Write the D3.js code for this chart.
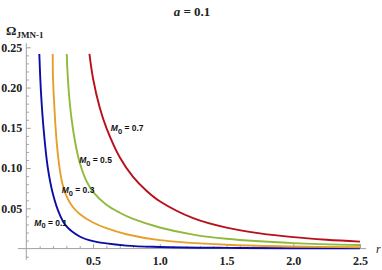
<!DOCTYPE html>
<html><head><meta charset="utf-8">
<script src="https://cdn.jsdelivr.net/npm/d3@7"></script>
<style>
html,body{margin:0;padding:0;background:#fff;}
svg{display:block;}
.tick text{font-family:"Liberation Serif",serif;font-weight:bold;font-size:12px;fill:#222;}
.lbl{font-family:"Liberation Sans",Arial,sans-serif;font-weight:bold;font-size:8.5px;fill:#111;}
</style></head>
<body>
<script>
// ---- data ----
const title = "a = 0.1";
const seriesNames = ["0.1", "0.3", "0.5", "0.7"];
const rBlue = [0.0975,0.11,0.13,0.16,0.2,0.25,0.3,0.4,0.5,0.75,1.0,1.5,2.0,2.5];
const vBlue = [0.2417,0.1942,0.1479,0.1016,0.0675,0.0424,0.0278,0.015,0.0092,0.00373,0.002,0.00089,0.0005,0.0003];
const rOrange = [0.198,0.2,0.21,0.22,0.235,0.25,0.27,0.3,0.35,0.4,0.5,0.6,0.75,1.0,1.5,2.0,2.5];
const vOrange = [0.2417,0.2125,0.1769,0.1488,0.1195,0.0992,0.0809,0.0656,0.0514,0.0431,0.0324,0.0253,0.0178,0.0105,0.0047,0.00263,0.00168];
const rGreen = [0.303,0.31,0.32,0.34,0.37,0.4,0.45,0.5,0.6,0.7,0.8,1.0,1.25,1.5,2.0,2.5];
const vGreen = [0.2417,0.2154,0.1914,0.160,0.1286,0.1069,0.084,0.0704,0.0544,0.0445,0.0368,0.0262,0.0174,0.0122,0.00685,0.00438];
const rRed = [0.473,0.5,0.55,0.6,0.7,0.8,0.9,1.0,1.25,1.5,1.75,2.0,2.25,2.5];
const vRed = [0.2417,0.2112,0.1752,0.150,0.1135,0.0891,0.0719,0.0588,0.0378,0.026,0.0189,0.0142,0.0110,0.0087];
const xMajor = [0.5,1.0,1.5,2.0,2.5];
const yMajor = [0.05,0.10,0.15,0.20,0.25];
const colors = ["#0c0ca6","#e6a02a","#8fba3c","#b8101a"];
// label anchor points (data coords)
const labelR = [0.06,0.265,0.396,0.633];
const labelV = [0.0282,0.0688,0.1058,0.1455];

const W = 382, H = 270;
const svg = d3.select("body").append("svg").attr("width",W).attr("height",H);
const x = d3.scaleLinear().domain([0,2.5]).range([26.3,360]);
const y = d3.scaleLinear().domain([0,0.25]).range([248.6,47.3]);

const axisColor = "#a0a0a0";
// axis lines
svg.append("line").attr("x1",18).attr("x2",366).attr("y1",y(0)).attr("y2",y(0))
  .attr("stroke",axisColor).attr("stroke-width",1);
svg.append("line").attr("x1",x(0)).attr("x2",x(0)).attr("y1",y(0.255)).attr("y2",y(-0.014))
  .attr("stroke",axisColor).attr("stroke-width",1);

// minor ticks
const xMinor = d3.range(1,26).map(i=>i/10).filter(v=>Math.abs(v*2-Math.round(v*2))>1e-6);
const yMinor = d3.range(-1,26).map(i=>i/100).filter(v=>Math.abs(v*20-Math.round(v*20))>1e-6);
function styleAxis(g){ g.select(".domain").remove(); g.selectAll(".tick line").attr("stroke",axisColor); }
svg.append("g").attr("transform",`translate(0,${y(0)})`)
  .call(d3.axisBottom(x).tickValues(xMinor).tickFormat("").tickSizeInner(-2.5).tickSizeOuter(0)).call(styleAxis);
svg.append("g").attr("transform",`translate(${x(0)},0)`)
  .call(d3.axisLeft(y).tickValues(yMinor).tickFormat("").tickSizeInner(-2.5).tickSizeOuter(0)).call(styleAxis);
// major ticks
svg.append("g").attr("transform",`translate(0,${y(0)})`)
  .call(d3.axisBottom(x).tickValues(xMajor).tickFormat(d3.format(".1f")).tickSizeInner(-4.5).tickSizeOuter(0).tickPadding(8)).call(styleAxis);
svg.append("g").attr("transform",`translate(${x(0)},0)`)
  .call(d3.axisLeft(y).tickValues(yMajor).tickFormat(d3.format(".2f")).tickSizeInner(-4.5).tickSizeOuter(0).tickPadding(4)).call(styleAxis);

// curves
const rs = [rBlue,rOrange,rGreen,rRed], vs = [vBlue,vOrange,vGreen,vRed];
const line = d3.line().x(d=>x(d[0])).y(d=>y(d[1])).curve(d3.curveCatmullRom.alpha(0.5));
rs.forEach((r,i)=>{
  const pts = r.map((rv,j)=>[rv, vs[i][j]]);
  svg.append("path").attr("d",line(pts)).attr("fill","none")
    .attr("stroke",colors[i]).attr("stroke-width",1.9);
});

// labels
seriesNames.forEach((s,i)=>{
  const t = svg.append("text").attr("class","lbl").attr("x",x(labelR[i])).attr("y",y(labelV[i]));
  t.append("tspan").attr("font-style","italic").text("M");
  t.append("tspan").attr("font-size","7.5px").attr("dy",2.5).text("0");
  t.append("tspan").attr("dy",-2.5).text(" = " + s);
});

// title
const tt = svg.append("text").attr("x",192).attr("y",16).attr("text-anchor","middle")
  .attr("font-family","Liberation Serif, serif").attr("font-weight","bold").attr("font-size","13px").attr("fill","#222");
tt.append("tspan").attr("font-style","italic").text("a");
tt.append("tspan").text(" = 0.1");

// y axis label
const yl = svg.append("text").attr("x",6).attr("y",35)
  .attr("font-family","Liberation Serif, serif").attr("font-weight","bold").attr("font-size","13px").attr("fill","#222");
yl.append("tspan").text("Ω");
yl.append("tspan").attr("font-size","9px").attr("dy",3).text("JMN-1");

// x axis label
svg.append("text").attr("x",376).attr("y",253).attr("font-family","Liberation Serif, serif")
  .attr("font-style","italic").attr("font-size","12px").attr("fill","#222").text("r");
</script>
</body></html>
